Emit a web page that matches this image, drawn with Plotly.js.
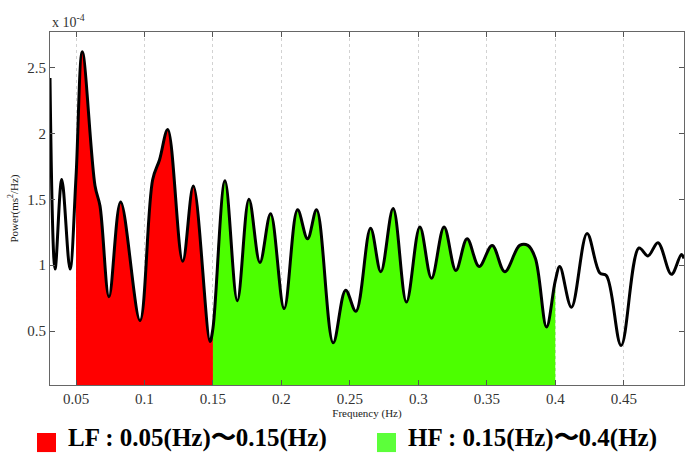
<!DOCTYPE html>
<html>
<head>
<meta charset="utf-8">
<script src="https://cdn.plot.ly/plotly-3.0.1.min.js"></script>
<style>html,body{margin:0;padding:0;background:#fff;}#chart{width:685px;height:454px;}</style>
</head>
<body>
<div id="chart"></div>
<script>
// Frequency (Hz)
const freq = [0.031, 0.0347, 0.0396, 0.0456, 0.05, 0.0546, 0.0639, 0.0675, 0.0741, 0.0826,
  0.0967, 0.106, 0.111, 0.117, 0.1279, 0.1357, 0.1478, 0.15, 0.1588, 0.1678,
  0.1763, 0.1843, 0.1921, 0.202, 0.2118, 0.2191, 0.2257, 0.2378, 0.2469, 0.2544,
  0.2651, 0.2726, 0.2816, 0.2913, 0.3011, 0.3096, 0.3188, 0.3274, 0.3356, 0.3444,
  0.3539, 0.3631, 0.374, 0.380, 0.3855, 0.3936, 0.40, 0.4033, 0.4118, 0.4232,
  0.4325, 0.4374, 0.4481, 0.4611, 0.4677, 0.475, 0.4848, 0.4921, 0.494];
// Power (x 10^-4 ms^2/Hz)
const power = [2.42, 0.97, 1.65, 0.97, 1.67, 2.62, 1.60, 1.45, 0.76, 1.48,
  0.58, 1.65, 1.80, 2.03, 1.03, 1.60, 0.42, 0.52, 1.64, 0.73,
  1.50, 1.02, 1.39, 0.67, 1.42, 1.20, 1.42, 0.41, 0.81, 0.65,
  1.28, 0.95, 1.43, 0.72, 1.29, 0.90, 1.29, 0.96, 1.20, 0.99,
  1.15, 0.95, 1.15, 1.15, 1.05, 0.53, 0.88, 0.99, 0.68, 1.24,
  0.94, 0.92, 0.39, 1.13, 1.07, 1.17, 0.93, 1.08, 1.05];
const xTicks = [0.05, 0.1, 0.15, 0.2, 0.25, 0.3, 0.35, 0.4, 0.45];
const yTicks = [0.5, 1, 1.5, 2, 2.5];
const lfBand = [0.05, 0.15];
const hfBand = [0.15, 0.4];
const lfLabel = 'LF : 0.05(Hz)〜0.15(Hz)';
const hfLabel = 'HF : 0.15(Hz)〜0.4(Hz)';

function band(lo, hi) {
  const x = [], y = [];
  for (let i = 0; i < freq.length; i++) {
    if (freq[i] >= lo - 1e-9 && freq[i] <= hi + 1e-9) { x.push(freq[i]); y.push(power[i]); }
  }
  return {x, y};
}
const lf = band(lfBand[0], lfBand[1]);
const hf = band(hfBand[0], hfBand[1]);
const RED = '#ff0000', GREEN = '#4cff00';
const serif = 'Liberation Serif, Times New Roman, serif';

const data = [
  {x: lf.x, y: lf.y, type: 'scatter', mode: 'lines', fill: 'tozeroy', fillcolor: RED,
   line: {width: 0, shape: 'spline', color: RED}, hoverinfo: 'skip', showlegend: false},
  {x: hf.x, y: hf.y, type: 'scatter', mode: 'lines', fill: 'tozeroy', fillcolor: GREEN,
   line: {width: 0, shape: 'spline', color: GREEN}, hoverinfo: 'skip', showlegend: false},
  {x: freq, y: power, type: 'scatter', mode: 'lines',
   line: {width: 3, color: '#000', shape: 'spline', smoothing: 1}, showlegend: false}
];

const layout = {
  width: 685, height: 454,
  margin: {l: 50, r: 1, t: 32, b: 69},
  paper_bgcolor: '#fff', plot_bgcolor: '#fff',
  font: {family: serif, color: '#222', size: 15},
  showlegend: false,
  xaxis: {
    range: [0.031, 0.494], tickvals: xTicks, ticks: 'inside', ticklen: 5, tickcolor: '#555',
    showline: true, linecolor: '#666', linewidth: 1, mirror: 'ticks',
    showgrid: true, gridcolor: '#d2d2d2', griddash: 'dot', gridwidth: 1, zeroline: false,
    tickfont: {family: serif, size: 15, color: '#333'},
    title: {text: 'Frequency (Hz)', font: {family: serif, size: 11, color: '#222'}, standoff: 2}
  },
  yaxis: {
    range: [0.09, 2.77], tickvals: yTicks, ticks: 'inside', ticklen: 5, tickcolor: '#555',
    showline: true, linecolor: '#666', linewidth: 1, mirror: 'ticks',
    showgrid: false, zeroline: false,
    tickfont: {family: serif, size: 15, color: '#333'},
    title: {text: 'Power(ms<sup>2</sup>/Hz)', font: {family: serif, size: 11, color: '#222'}, standoff: 6}
  },
  annotations: [
    {xref: 'paper', yref: 'paper', x: 0, y: 1, xanchor: 'left', yanchor: 'bottom', showarrow: false,
     text: 'x 10<sup>-4</sup>', font: {family: serif, size: 14, color: '#333'}},
    {xref: 'paper', yref: 'paper', x: 0.0268, y: -0.1505, xanchor: 'left', yanchor: 'middle', showarrow: false,
     borderpad: 0, text: '<b>' + lfLabel + '</b>', font: {family: serif, size: 25, color: '#000'}},
    {xref: 'paper', yref: 'paper', x: 0.5631, y: -0.1505, xanchor: 'left', yanchor: 'middle', showarrow: false,
     borderpad: 0, text: '<b>' + hfLabel + '</b>', font: {family: serif, size: 25, color: '#000'}}
  ],
  shapes: [
    {type: 'rect', xref: 'paper', yref: 'paper', x0: -0.0205, x1: 0.0095, y0: -0.19, y1: -0.136,
     fillcolor: RED, line: {width: 0}},
    {type: 'rect', xref: 'paper', yref: 'paper', x0: 0.5158, x1: 0.5457, y0: -0.19, y1: -0.136,
     fillcolor: '#5cff3a', line: {width: 0}}
  ]
};
Plotly.newPlot('chart', data, layout, {displayModeBar: false, staticPlot: true});
</script>
</body>
</html>
